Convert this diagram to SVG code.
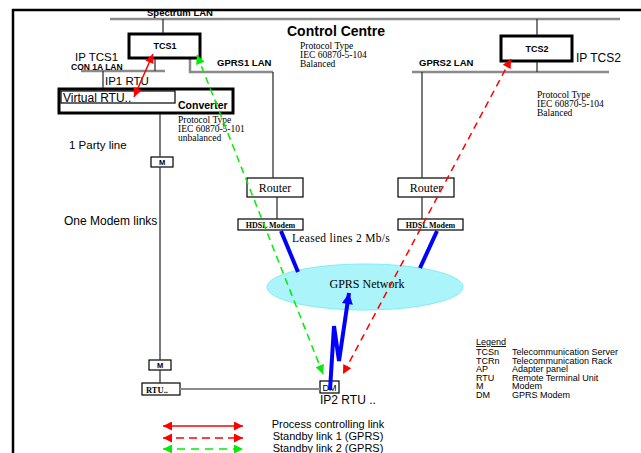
<svg xmlns="http://www.w3.org/2000/svg" width="641" height="453" viewBox="0 0 641 453">
<style>
.sans{font-family:"Liberation Sans",Arial,sans-serif;fill:#000}
.serif{font-family:"Liberation Serif","Times New Roman",serif;fill:#000}
.b{font-weight:bold}
.box{fill:#fff;stroke:#000;stroke-width:1.2}
.thick{fill:#fff;stroke:#000;stroke-width:3}
.lan{stroke:#8a8a8a;stroke-width:2.5;fill:none}
.wire{stroke:#333;stroke-width:1.3;fill:none}
.red{stroke:#ff0000;stroke-width:1.5;fill:none}
.green{stroke:#00ee00;stroke-width:1.5;fill:none}
.blue{stroke:#0000ff;stroke-width:4;fill:none}
</style>
<defs>
<marker id="ar" viewBox="0 0 10 10" refX="10" refY="5" markerWidth="14" markerHeight="9" markerUnits="userSpaceOnUse" orient="auto-start-reverse"><path d="M0,0 L10,5 L0,10 Z" fill="#ff0000"/></marker>
<marker id="ag" viewBox="0 0 10 10" refX="10" refY="5" markerWidth="14" markerHeight="9" markerUnits="userSpaceOnUse" orient="auto-start-reverse"><path d="M0,0 L10,5 L0,10 Z" fill="#00ee00"/></marker>
<marker id="ab" viewBox="0 0 10 10" refX="10" refY="5" markerWidth="13" markerHeight="11" markerUnits="userSpaceOnUse" orient="auto"><path d="M0,0 L10,5 L0,10 Z" fill="#0000ff"/></marker>
</defs>
<rect width="641" height="453" fill="#fff"/>
<g id="frame">
<line x1="12" y1="10" x2="641" y2="10" stroke="#000" stroke-width="2.5"/>
<line x1="13" y1="9" x2="13" y2="453" stroke="#000" stroke-width="2.5"/>
</g>
<g id="lans">
<line class="lan" x1="110" y1="19" x2="620" y2="19"/>
<text class="sans b" x="180" y="16" font-size="9.5" text-anchor="middle">Spectrum LAN</text>
<line class="lan" x1="81" y1="71" x2="165" y2="71"/>
<text class="sans" x="75" y="61" font-size="11.5">IP TCS1</text>
<text class="sans b" x="71" y="69.5" font-size="8.5">CON 1A LAN</text>
<text class="sans" x="105" y="85" font-size="11.5">IP1 RTU</text>
<path class="lan" d="M190,58 V72 H273" stroke-width="2"/>
<text class="sans b" x="217" y="66" font-size="9.5">GPRS1 LAN</text>
<line class="lan" x1="412" y1="72" x2="609" y2="72"/>
<text class="sans b" x="419" y="66" font-size="9.5">GPRS2 LAN</text>
<text class="sans" x="576" y="62" font-size="12">IP TCS2</text>
</g>
<g id="labels">
<text class="sans b" x="336" y="36" font-size="14" text-anchor="middle">Control Centre</text>
<text class="serif" x="300" y="49" font-size="9.5">Protocol Type</text>
<text class="serif" x="300" y="58" font-size="9.5">IEC 60870-5-104</text>
<text class="serif" x="300" y="67" font-size="9.5">Balanced</text>
<text class="serif" x="537" y="98" font-size="9.5">Protocol Type</text>
<text class="serif" x="537" y="107" font-size="9.5">IEC 60870-5-104</text>
<text class="serif" x="537" y="116" font-size="9.5">Balanced</text>
<text class="serif" x="178" y="123" font-size="9.5">Protocol Type</text>
<text class="serif" x="178" y="132" font-size="9.5">IEC 60870-5-101</text>
<text class="serif" x="178" y="141" font-size="9.5">unbalanced</text>
<text class="sans" x="69" y="149" font-size="11.5">1 Party line</text>
<text class="sans" x="64" y="225" font-size="12">One Modem links</text>
<text class="serif" x="292" y="242" font-size="11.5" letter-spacing="0.3">Leased lines 2 Mb/s</text>
</g>
<g id="gprs-network">
<ellipse cx="365" cy="287" rx="98" ry="23" fill="#aaf4fa" stroke="#80eef5" stroke-width="1"/>
<text class="serif" x="367" y="288" font-size="12" text-anchor="middle">GPRS Network</text>
</g>
<g id="tcs1"><rect class="thick" x="129" y="34" width="71" height="24"/><text class="sans b" x="165" y="49" font-size="9" text-anchor="middle">TCS1</text></g>
<g id="tcs2"><rect class="thick" x="501" y="36" width="71" height="25"/><text class="sans b" x="537" y="52" font-size="9" text-anchor="middle">TCS2</text></g>
<g id="converter"><rect class="thick" x="59" y="89" width="174" height="24"/><rect class="box" x="61" y="91" width="114" height="12"/><text class="sans" x="63" y="102" font-size="12">Virtual RTU..</text><text class="sans b" x="178" y="109" font-size="10.5">Converter</text></g>
<g id="router1"><rect class="box" x="247" y="178" width="56" height="19"/><text class="serif" x="275" y="192" font-size="12" text-anchor="middle">Router</text></g>
<g id="router2"><rect class="box" x="398" y="178" width="56" height="19"/><text class="serif" x="426" y="192" font-size="12" text-anchor="middle">Router</text></g>
<g id="hdsl1"><rect class="box" x="238" y="219" width="65" height="11"/><text class="serif b" x="270.5" y="228" font-size="8" text-anchor="middle">HDSL Modem</text></g>
<g id="hdsl2"><rect class="box" x="398" y="219" width="65" height="11"/><text class="serif b" x="430.5" y="228" font-size="8" text-anchor="middle">HDSL Modem</text></g>
<g id="m1"><rect class="box" x="151" y="157" width="22" height="10"/><text class="sans b" x="162" y="165" font-size="7.5" text-anchor="middle">M</text></g>
<g id="m2"><rect class="box" x="149" y="360" width="22" height="10"/><text class="sans b" x="160" y="368" font-size="7.5" text-anchor="middle">M</text></g>
<g id="rtu"><rect class="box" x="142" y="383" width="38" height="12"/><text class="serif b" x="146" y="392.5" font-size="8.5">RTU..</text></g>
<g id="dm"><rect class="box" x="320" y="381" width="19" height="12"/><text class="sans" x="329.5" y="391" font-size="9" text-anchor="middle">DM</text><text class="sans" x="320" y="404" font-size="12">IP2 RTU ..</text></g>
<g id="connectors">
<line class="wire" x1="163" y1="19" x2="163" y2="33"/>
<line class="wire" x1="155" y1="59" x2="155" y2="71"/>
<line class="wire" x1="103" y1="71" x2="103" y2="88"/>
<line class="wire" x1="273" y1="72" x2="273" y2="178"/>
<line class="wire" x1="277" y1="197" x2="277" y2="219"/>
<line class="wire" x1="160" y1="114" x2="160" y2="157"/>
<line class="wire" x1="160" y1="167" x2="160" y2="360"/>
<line class="wire" x1="160" y1="370" x2="160" y2="383"/>
<line x1="180" y1="389" x2="320" y2="389" stroke="#8a8a8a" stroke-width="1.8"/>
<line class="wire" x1="537" y1="19" x2="537" y2="35"/>
<line class="wire" x1="537" y1="62" x2="537" y2="72"/>
<line class="wire" x1="422" y1="72" x2="422" y2="178"/>
<line class="wire" x1="422" y1="197" x2="422" y2="219"/>
<line class="blue" x1="281" y1="231" x2="298" y2="272"/>
<line class="blue" x1="437" y1="231" x2="420" y2="268"/>
<polyline class="blue" points="330,390 334,326 339,361 349,293" marker-end="url(#ab)"/>
<line class="red" x1="153" y1="54" x2="134" y2="97" marker-start="url(#ar)" marker-end="url(#ar)"/>
<line class="green" x1="197" y1="55" x2="323" y2="374" stroke-dasharray="7 5" marker-start="url(#ag)" marker-end="url(#ag)"/>
<line class="red" x1="511" y1="59" x2="343" y2="374" stroke-width="1.2" stroke-dasharray="7 5" marker-start="url(#ar)" marker-end="url(#ar)"/>
</g>
<g id="legend">
<text class="sans" x="476" y="345" font-size="9" text-decoration="underline">Legend</text>
<g class="sans" font-size="9">
<text x="476" y="355">TCSn</text><text x="512" y="355">Telecommunication Server</text>
<text x="476" y="363.5">TCRn</text><text x="512" y="363.5">Telecommunication Rack</text>
<text x="476" y="372">AP</text><text x="512" y="372">Adapter panel</text>
<text x="476" y="380.5">RTU</text><text x="512" y="380.5">Remote Terminal Unit</text>
<text x="476" y="389">M</text><text x="512" y="389">Modem</text>
<text x="476" y="397.5">DM</text><text x="512" y="397.5">GPRS Modem</text>
</g>
</g>
<g id="link-legend">
<line class="red" x1="163" y1="426" x2="243" y2="426" marker-start="url(#ar)" marker-end="url(#ar)"/>
<line class="red" x1="163" y1="438" x2="243" y2="438" stroke-dasharray="8 5" marker-start="url(#ar)" marker-end="url(#ar)"/>
<line class="green" x1="163" y1="449" x2="243" y2="449" stroke-dasharray="8 6" marker-start="url(#ag)" marker-end="url(#ag)"/>
<text class="sans" x="328" y="428" font-size="11" text-anchor="middle">Process controlling link</text>
<text class="sans" x="328" y="440" font-size="11" text-anchor="middle">Standby link 1 (GPRS)</text>
<text class="sans" x="328" y="451.5" font-size="11" text-anchor="middle">Standby link 2 (GPRS)</text>
</g>
</svg>
